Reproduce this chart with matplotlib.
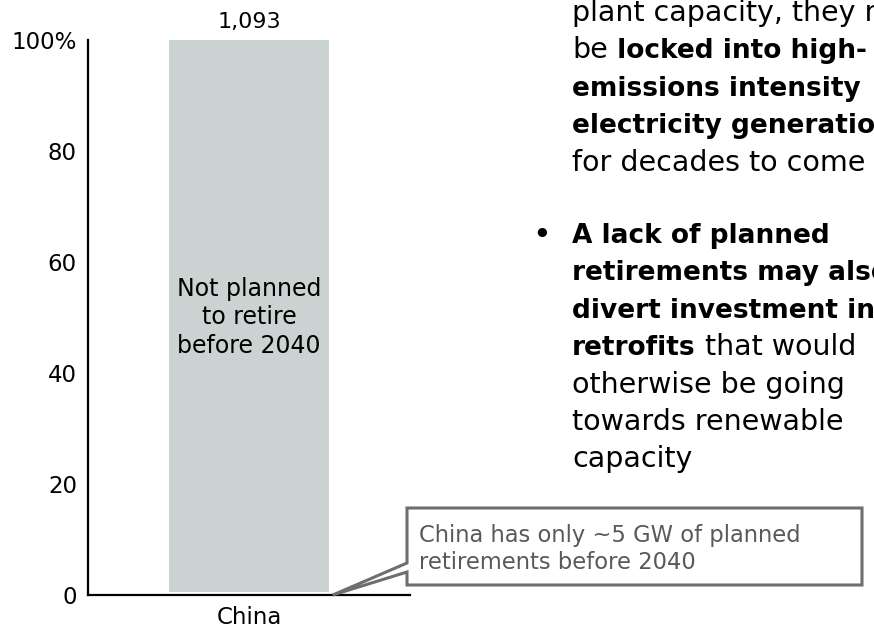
import matplotlib
matplotlib.use("Agg")
import matplotlib.pyplot as plt
from matplotlib.patches import Polygon
import numpy as np

# data: coal capacity (GW) and the part planned to retire before 2040
countries = ["China"]
total_gw = [1093]
retire_gw = [5]
inner_label = "Not planned\nto retire\nbefore 2040"
callout_text = "China has only ~5 GW of planned\nretirements before 2040"
ytick_vals = [0, 20, 40, 60, 80, 100]

# side commentary, one list per line: (text, bold)
bullet1_lines = [
    [("plant capacity, they may", False)],
    [("be", False), (" locked into high-", True)],
    [("emissions intensity", True)],
    [("electricity generation", True)],
    [("for decades to come", False)],
]
bullet2_lines = [
    [("A lack of planned", True)],
    [("retirements may also", True)],
    [("divert investment into", True)],
    [("retrofits", True), (" that would", False)],
    [("otherwise be going", False)],
    [("towards renewable", False)],
    [("capacity", False)],
]

plt.rcParams['font.family'] = ['DejaVu Sans']

W, H = 874, 631
fig = plt.figure(figsize=(W / 100, H / 100), dpi=100)
ax = fig.add_axes([88 / W, 36 / H, 322 / W, 555 / H])

total = np.array(total_gw, dtype=float)
retire_pct = np.array(retire_gw) / total * 100
keep_pct = 100 - retire_pct
x = np.arange(len(countries))
bar_w = 0.494

ax.bar(x, retire_pct, width=bar_w, color="white")
ax.bar(x, keep_pct, bottom=retire_pct, width=bar_w, color="#CAD3D1")

for xi, t in zip(x, total_gw):
    ax.annotate(f"{t:,}", xy=(xi, 100), xytext=(0, 6), textcoords="offset points",
                ha="center", va="bottom", fontsize=16, annotation_clip=False)
    ax.text(xi, 50, inner_label, ha="center", va="center", fontsize=17,
            linespacing=1.25)

ax.set_xlim(-0.5, 0.5)
ax.set_ylim(0, 100)
ax.set_yticks(ytick_vals)
ax.set_yticklabels([str(v) if v < 100 else f"{v}%" for v in ytick_vals])
ax.set_xticks(x)
ax.set_xticklabels(countries)
ax.tick_params(length=0, labelsize=16.5, pad=8)
for s in ["top", "right"]:
    ax.spines[s].set_visible(False)
for s in ["left", "bottom"]:
    ax.spines[s].set_linewidth(1.6)
    ax.spines[s].set_color("black")

# callout bubble pointing at the retirement sliver
tip = fig.transFigure.inverted().transform(
    ax.transData.transform((x[0] + bar_w / 2 + 0.013, 0)))
bl, br, bt, bb = 407 / W, 862 / W, 1 - 508 / H, 1 - 585 / H
n1, n2 = 1 - 563 / H, 1 - 572 / H
bubble = Polygon([(bl, bt), (br, bt), (br, bb), (bl, bb), (bl, n2), tuple(tip), (bl, n1)],
                 closed=True, transform=fig.transFigure, facecolor="white",
                 edgecolor="#6E6E6E", linewidth=2.2, joinstyle="miter", zorder=5)
fig.add_artist(bubble)
fig.text(419 / W, 1 - 549 / H, callout_text, ha="left", va="center", fontsize=16.3,
         color="#595959", linespacing=1.2, zorder=6)

# right-hand commentary
fs_norm, fs_bold = 20.5, 19
x0 = 572 / W


def draw_line(y_px, parts):
    t = fig.text(x0, 1 - y_px / H, parts[0][0], va="baseline",
                 fontsize=fs_bold if parts[0][1] else fs_norm,
                 weight="bold" if parts[0][1] else "normal")
    for txt, bold in parts[1:]:
        t = ax.annotate(txt, xy=(1, 0), xycoords=t, va="bottom", ha="left",
                        fontsize=fs_bold if bold else fs_norm,
                        weight="bold" if bold else "normal",
                        annotation_clip=False)


step = 37.4
for i, parts in enumerate(bullet1_lines):
    draw_line(21 + i * step, parts)
for i, parts in enumerate(bullet2_lines):
    draw_line(243 + i * step, parts)
fig.text(542 / W, 1 - 243 / H, "\u2022", fontsize=fs_bold, ha="center", va="baseline",
         weight="bold")

fig.savefig("out.png", dpi=100)
